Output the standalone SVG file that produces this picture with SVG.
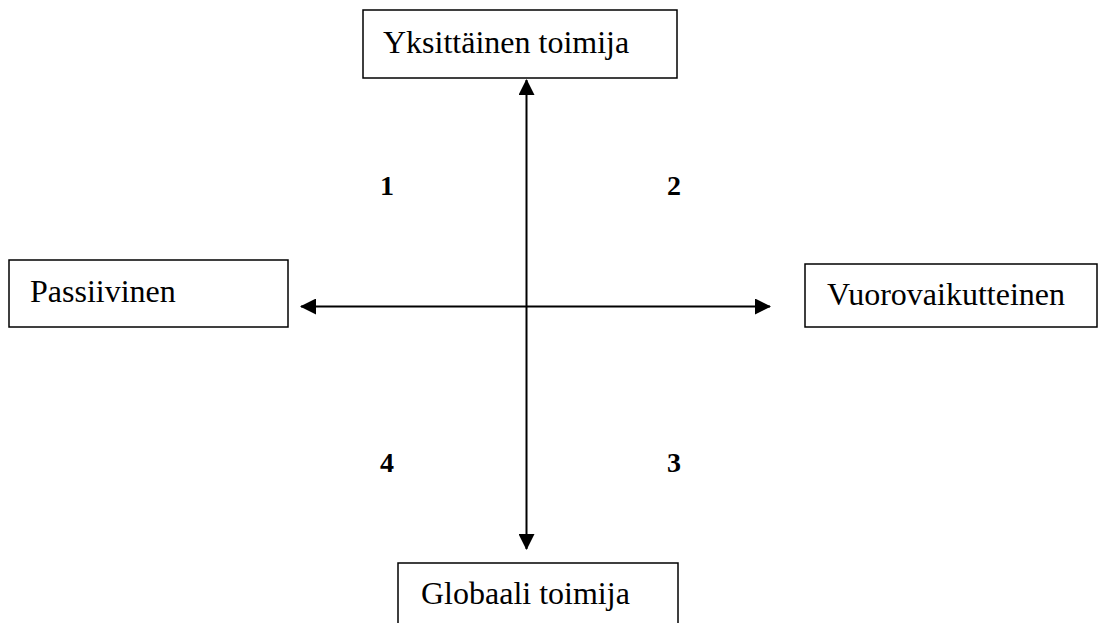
<svg xmlns="http://www.w3.org/2000/svg" width="1100" height="623" viewBox="0 0 1100 623">
<style>
.box{fill:#fff;stroke:#000;stroke-width:1.5}
.lbl{font-family:"Liberation Serif","Times New Roman",serif;font-size:32px;fill:#000}
.num{font-family:"Liberation Serif","Times New Roman",serif;font-size:28px;font-weight:bold;fill:#000}
.ax{stroke:#000;stroke-width:2;fill:none}
</style>
<defs>
<marker id="ah" viewBox="0 0 16 16" refX="15" refY="8" markerWidth="16" markerHeight="16" markerUnits="userSpaceOnUse" orient="auto-start-reverse">
<path d="M0,0 L16,8 L0,16 Z" fill="#000"/>
</marker>
</defs>
<rect width="1100" height="623" fill="#fff"/>
<g id="connectors">
<line class="ax" x1="526.5" y1="80" x2="526.5" y2="549" marker-start="url(#ah)" marker-end="url(#ah)"/>
<line class="ax" x1="301" y1="306.5" x2="770" y2="306.5" marker-start="url(#ah)" marker-end="url(#ah)"/>
</g>
<g id="node-yksittainen">
<rect class="box" x="363" y="10" width="314" height="68"/>
<text class="lbl" x="383" y="53">Yksittäinen toimija</text>
</g>
<g id="node-passiivinen">
<rect class="box" x="9" y="260" width="279" height="67"/>
<text class="lbl" x="30" y="302">Passiivinen</text>
</g>
<g id="node-vuorovaikutteinen">
<rect class="box" x="805" y="264" width="292" height="63"/>
<text class="lbl" x="827" y="305">Vuorovaikutteinen</text>
</g>
<g id="node-globaali">
<rect class="box" x="398" y="563" width="280" height="70"/>
<text class="lbl" x="421" y="604">Globaali toimija</text>
</g>
<g id="quadrants">
<text class="num" x="380" y="195">1</text>
<text class="num" x="667" y="195">2</text>
<text class="num" x="667" y="472">3</text>
<text class="num" x="380" y="472">4</text>
</g>
</svg>
